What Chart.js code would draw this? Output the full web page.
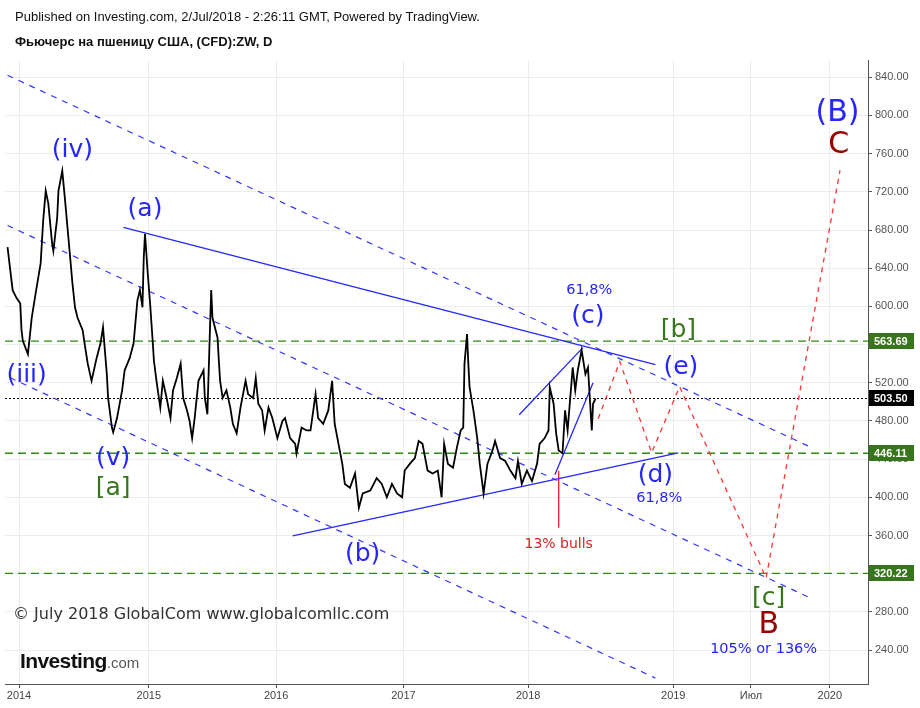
<!DOCTYPE html>
<html>
<head>
<meta charset="utf-8">
<script src="https://cdn.jsdelivr.net/npm/chart.js@4.4.1/dist/chart.umd.min.js"></script>
<style>
  body { margin: 0; background: #fff; }
  #wrap { position: relative; width: 920px; height: 708px; overflow: hidden; }
  canvas { position: absolute; left: 0; top: 0; }
  .txt { position: absolute; white-space: nowrap; }
  #pub { left: 15px; top: 9px; font: 13px "Liberation Sans", Arial, sans-serif; color: #111; }
  #sym { left: 15px; top: 34px; font: bold 13px "Liberation Sans", Arial, sans-serif; color: #111; }
  #copy { left: 13px; top: 604px; font: 16px "DejaVu Sans", Verdana, sans-serif; color: #333; }
  #logo { left: 20px; top: 649px; font: bold 21px "Liberation Sans", Arial, sans-serif; color: #111; letter-spacing: -0.6px; }
  #logo span { font: 15px "Liberation Sans", Arial, sans-serif; color: #555; letter-spacing: 0; }
</style>
</head>
<body>
<div id="wrap">
  <canvas id="chart" width="920" height="708"></canvas>
  <div class="txt" id="pub">Published on Investing.com, 2/Jul/2018 - 2:26:11 GMT, Powered by TradingView.</div>
  <div class="txt" id="sym">Фьючерс на пшеницу США, (CFD):ZW, D</div>
  <div class="txt" id="copy">© July 2018 GlobalCom www.globalcomllc.com</div>
  <div class="txt" id="logo">Investing<span>.com</span></div>
</div>
<script>
// x is a time position: past bars in years, future part uses TradingView's wider spacing
const xTickPos = [2014, 2015.02, 2016.02, 2017.02, 2018.0, 2019.14, 2019.75, 2020.37];
const xTickLabels = ["2014", "2015", "2016", "2017", "2018", "2019", "Июл", "2020"];
const yTicks = [240, 280, 320, 360, 400, 440, 480, 520, 560, 600, 640, 680, 720, 760, 800, 840];

// ZW wheat daily
const priceX = [
  2013.91, 2013.95, 2013.98, 2014.01, 2014.02, 2014.03, 2014.07, 2014.10, 2014.13, 2014.17,
  2014.19, 2014.21, 2014.23, 2014.26, 2014.27, 2014.30, 2014.31, 2014.34, 2014.36, 2014.39,
  2014.42, 2014.44, 2014.46, 2014.50, 2014.52, 2014.54, 2014.57, 2014.61, 2014.64, 2014.66,
  2014.69, 2014.70, 2014.73, 2014.74, 2014.77, 2014.81, 2014.83, 2014.87, 2014.90, 2014.93,
  2014.95, 2014.97, 2014.98, 2014.99, 2015.01, 2015.03, 2015.05, 2015.06, 2015.08, 2015.11,
  2015.13, 2015.16, 2015.19, 2015.21, 2015.24, 2015.27, 2015.29, 2015.32, 2015.34, 2015.36,
  2015.38, 2015.41, 2015.45, 2015.46, 2015.48, 2015.50, 2015.51, 2015.52, 2015.56, 2015.57,
  2015.58, 2015.60, 2015.63, 2015.66, 2015.68, 2015.71, 2015.74, 2015.78, 2015.80, 2015.84,
  2015.86, 2015.88, 2015.91, 2015.93, 2015.96, 2015.99, 2016.03, 2016.07, 2016.09, 2016.13,
  2016.17, 2016.18, 2016.22, 2016.26, 2016.29, 2016.33, 2016.35, 2016.39, 2016.43, 2016.46,
  2016.48, 2016.51, 2016.54, 2016.56, 2016.60, 2016.64, 2016.67, 2016.70, 2016.76, 2016.81,
  2016.85, 2016.89, 2016.93, 2016.97, 2017.01, 2017.03, 2017.07, 2017.11, 2017.14, 2017.17,
  2017.21, 2017.25, 2017.29, 2017.32, 2017.34, 2017.37, 2017.41, 2017.44, 2017.47, 2017.49,
  2017.50, 2017.52, 2017.53, 2017.54, 2017.57, 2017.60, 2017.62, 2017.65, 2017.68, 2017.72,
  2017.74, 2017.78, 2017.82, 2017.86, 2017.90, 2017.92, 2017.95, 2017.99, 2018.03, 2018.07,
  2018.09, 2018.13, 2018.16, 2018.17, 2018.20, 2018.22, 2018.24, 2018.27, 2018.29, 2018.31,
  2018.35, 2018.37, 2018.39, 2018.42, 2018.45, 2018.47, 2018.50, 2018.51, 2018.53
];
const priceY = [
  662, 617, 609, 603, 575, 564, 550, 588, 613, 645,
  690, 721, 708, 666, 658, 693, 721, 742, 714, 669,
  624, 599, 588, 575, 557, 540, 522, 546, 561, 578,
  529, 504, 473, 468, 483, 512, 533, 546, 561, 606,
  617, 599, 651, 676, 637, 603, 564, 543, 522, 494,
  522, 504, 483, 512, 525, 540, 504, 491, 480, 462,
  483, 522, 533, 504, 487, 575, 617, 588, 567, 543,
  522, 504, 512, 494, 477, 467, 494, 522, 508, 504,
  525, 498, 491, 470, 494, 483, 462, 480, 483, 462,
  456, 446, 473, 470, 470, 508, 483, 477, 491, 522,
  477, 456, 435, 414, 410, 425, 389, 404, 407, 420,
  414, 400, 414, 404, 400, 428, 435, 441, 459, 456,
  428, 425, 428, 400, 456, 435, 431, 452, 470, 473,
  540, 571, 540, 515, 491, 462, 435, 404, 435, 449,
  459, 441, 438, 428, 420, 438, 414, 428, 417, 435,
  456, 462, 470, 515, 498, 467, 449, 446, 491, 470,
  536, 512, 533, 554, 529, 536, 470, 498, 503.5
];

// key levels shown on the price scale
const levelValues = [563.69, 503.50, 446.11, 320.22];
const levelKinds = ["green", "last", "green", "green"];

// drawn lines: [x1, y1, x2, y2]
const channelLines = [
  [2013.91, 842.1, 2020.23, 451.9],
  [2013.91, 684.7, 2020.20, 295.6],
  [2013.93, 525.3, 2019.00, 210.6]
];
const trendLines = [
  [2014.82, 682.7, 2019.00, 538.9],
  [2016.15, 359.6, 2019.18, 446.6],
  [2017.93, 486.5, 2018.43, 556.8],
  [2018.21, 423.6, 2018.51, 520.1]
];
const bullsMarker = [2018.24, 427.7, 2018.24, 368.0];
const forecastX = [2018.55, 2018.72, 2018.97, 2019.19, 2019.87, 2020.45];
const forecastY = [482.3, 542.1, 446.6, 515.9, 315.5, 742.4];

// wave labels
const waveLabels = [
  { text: "(iv)", x: 2014.42, y: 763.4, kind: "wave" },
  { text: "(a)", x: 2014.99, y: 701.5, kind: "wave" },
  { text: "(iii)", x: 2014.06, y: 527.4, kind: "wave" },
  { text: "(v)", x: 2014.74, y: 440.3, kind: "wave" },
  { text: "[a]", x: 2014.74, y: 408.9, kind: "green" },
  { text: "(b)", x: 2016.70, y: 339.6, kind: "wave" },
  { text: "61,8%", x: 2018.48, y: 616.6, kind: "note" },
  { text: "(c)", x: 2018.47, y: 589.3, kind: "wave" },
  { text: "[b]", x: 2019.18, y: 574.6, kind: "green" },
  { text: "(e)", x: 2019.20, y: 535.8, kind: "wave" },
  { text: "(d)", x: 2019.00, y: 422.5, kind: "wave" },
  { text: "61,8%", x: 2019.03, y: 399.4, kind: "note" },
  { text: "13% bulls", x: 2018.24, y: 351.2, kind: "red" },
  { text: "[c]", x: 2019.89, y: 293.5, kind: "green" },
  { text: "B", x: 2019.89, y: 266.2, kind: "big" },
  { text: "105% or 136%", x: 2019.85, y: 241.0, kind: "note" },
  { text: "(B)", x: 2020.43, y: 802.2, kind: "bigblue" },
  { text: "C", x: 2020.44, y: 768.7, kind: "big" }
];

const BLUE = "#2626ff";
const GREEN = "#38761d";
const labelStyle = {
  wave: { font: "25px 'DejaVu Sans', Verdana, sans-serif", color: BLUE },
  green: { font: "25px 'DejaVu Sans', Verdana, sans-serif", color: GREEN },
  note: { font: "14.5px 'DejaVu Sans', Verdana, sans-serif", color: BLUE },
  red: { font: "14px 'DejaVu Sans', Verdana, sans-serif", color: "#e02020" },
  big: { font: "30px 'DejaVu Sans', Verdana, sans-serif", color: "#990000" },
  bigblue: { font: "30px 'DejaVu Sans', Verdana, sans-serif", color: BLUE }
};

const X_MIN = 2013.89, X_MAX = 2020.67;
const Y_MIN = 204.4, Y_MAX = 858.1;

function seg(s, style) {
  return Object.assign({
    type: "line",
    data: [{ x: s[0], y: s[1] }, { x: s[2], y: s[3] }],
    pointRadius: 0,
    fill: false,
    tension: 0
  }, style);
}

const datasets = [];
datasets.push({
  type: "line",
  data: priceX.map((x, i) => ({ x: x, y: priceY[i] })),
  borderColor: "#000",
  borderWidth: 1.8,
  pointRadius: 0,
  tension: 0
});
trendLines.forEach(s => datasets.push(seg(s, { borderColor: BLUE, borderWidth: 1.3 })));
datasets.push(seg(bullsMarker, { borderColor: "#e82020", borderWidth: 1.3 }));
datasets.push({
  type: "line",
  data: forecastX.map((x, i) => ({ x: x, y: forecastY[i] })),
  borderColor: "#ff3333",
  borderWidth: 1.3,
  borderDash: [5, 5],
  pointRadius: 0,
  tension: 0
});
channelLines.forEach(s => datasets.push(seg(s, { borderColor: "#3434ff", borderWidth: 1.2, borderDash: [6, 6] })));
levelValues.forEach((v, i) => {
  const last = levelKinds[i] === "last";
  datasets.push(seg([X_MIN, v, X_MAX, v], {
    borderColor: last ? "#000" : "#2f8a12",
    borderWidth: last ? 1 : 1.3,
    borderDash: last ? [2, 2] : [8, 5]
  }));
});

const overlay = {
  id: "overlay",
  afterDatasetsDraw(chart) {
    const { ctx, scales } = chart;
    ctx.save();
    ctx.textAlign = "center";
    ctx.textBaseline = "middle";
    waveLabels.forEach(l => {
      const st = labelStyle[l.kind];
      ctx.font = st.font;
      ctx.fillStyle = st.color;
      ctx.fillText(l.text, scales.x.getPixelForValue(l.x), scales.y.getPixelForValue(l.y));
    });
    ctx.restore();
  },
  afterDraw(chart) {
    const { ctx, scales, chartArea } = chart;
    ctx.save();
    ctx.font = "bold 11px 'Liberation Sans', Arial, sans-serif";
    ctx.textBaseline = "middle";
    ctx.textAlign = "left";
    levelValues.forEach((v, i) => {
      const py = Math.round(scales.y.getPixelForValue(v));
      ctx.fillStyle = levelKinds[i] === "last" ? "#000" : GREEN;
      ctx.fillRect(chartArea.right + 1, py - 8, 45, 16);
      ctx.fillStyle = "#fff";
      ctx.fillText(v.toFixed(2), chartArea.right + 6, py + 0.5);
    });
    ctx.restore();
  }
};

new Chart(document.getElementById("chart"), {
  data: { datasets: datasets },
  options: {
    responsive: false,
    animation: false,
    devicePixelRatio: 1,
    layout: { padding: { top: 60, left: 5, right: 0, bottom: 0 } },
    plugins: { legend: { display: false }, tooltip: { enabled: false } },
    scales: {
      x: {
        type: "linear",
        min: X_MIN,
        max: X_MAX,
        afterBuildTicks: s => { s.ticks = xTickPos.map(v => ({ value: v })); },
        afterFit: s => { s.height = 24; },
        ticks: {
          autoSkip: false,
          maxRotation: 0,
          padding: 1,
          color: "#444",
          font: { family: "'Liberation Sans', Arial, sans-serif", size: 11 },
          callback: v => {
            const i = xTickPos.indexOf(v);
            return i >= 0 ? xTickLabels[i] : "";
          }
        },
        grid: { color: "#ececec", tickColor: "#555", tickLength: 4 },
        border: { color: "#555" }
      },
      y: {
        type: "linear",
        position: "right",
        min: Y_MIN,
        max: Y_MAX,
        afterBuildTicks: s => { s.ticks = yTicks.map(v => ({ value: v })); },
        afterFit: s => { s.width = 52; },
        ticks: {
          padding: 3,
          color: "#555",
          font: { family: "'Liberation Sans', Arial, sans-serif", size: 11 },
          callback: v => Number(v).toFixed(2)
        },
        grid: { color: "#ececec", tickColor: "#555", tickLength: 4 },
        border: { color: "#555" }
      }
    }
  },
  plugins: [overlay]
});
</script>
</body>
</html>
